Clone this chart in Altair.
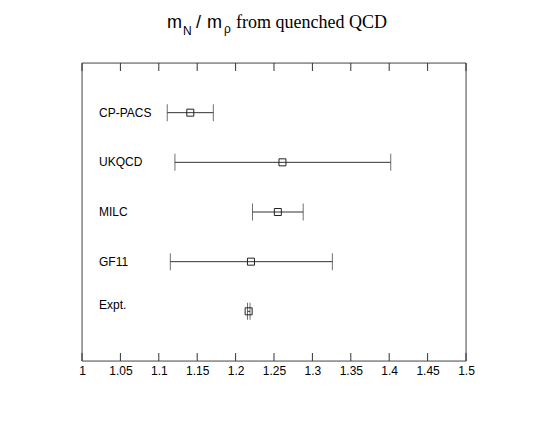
import altair as alt
import pandas as pd

groups = ["CP-PACS", "UKQCD", "MILC", "GF11", "Expt."]
rows = [1, 2, 3, 4, 5]
centers = [1.141, 1.261, 1.255, 1.220, 1.217]
lows = [1.111, 1.121, 1.222, 1.115, 1.2155]
highs = [1.171, 1.402, 1.288, 1.326, 1.2188]
tick_values = [1.0, 1.05, 1.1, 1.15, 1.2, 1.25, 1.3, 1.35, 1.4, 1.45, 1.5]

df = pd.DataFrame({"group": groups, "row": rows, "c": centers, "lo": lows, "hi": highs})
ticks_df = pd.DataFrame({"t": tick_values})

W, H = 384, 298
xs = alt.Scale(domain=[1.0, 1.5], nice=False, zero=False)
ys = alt.Scale(domain=[0, 6], reverse=True, nice=False, zero=False)

xaxis = alt.Axis(values=tick_values, format="~g", domain=False, ticks=False, grid=False,
                 labelFont="Liberation Sans", labelFontSize=12, labelColor="black",
                 labelPadding=4, labelOverlap=False, labelFlush=False, labelBound=False,
                 tickCount=11, title=None)

def X(field):
    return alt.X(field, scale=xs, axis=xaxis)

def Y(field):
    return alt.Y(field, scale=ys, axis=None)

base = alt.Chart(df)

bars = base.mark_rule(color="#333", strokeWidth=1).encode(
    x=X("lo:Q"), x2="hi:Q", y=Y("row:Q"))
caps_lo = base.mark_tick(orient="vertical", size=17, thickness=1, color="#333").encode(
    x=X("lo:Q"), y=Y("row:Q"))
caps_hi = base.mark_tick(orient="vertical", size=17, thickness=1, color="#333").encode(
    x=X("hi:Q"), y=Y("row:Q"))
pts = base.mark_point(shape="square", size=49, filled=False, color="#222", strokeWidth=1, opacity=1).encode(
    x=X("c:Q"), y=Y("row:Q"))

labels = alt.Chart(df[df.group != "Expt."]).mark_text(
    align="left", baseline="middle", font="Liberation Sans", fontSize=12, color="black").encode(
    x=alt.value(17), y=Y("row:Q"), text="group:N")
label_expt = alt.Chart(df[df.group == "Expt."]).mark_text(
    align="left", baseline="middle", font="Liberation Sans", fontSize=12, color="black", dy=-6).encode(
    x=alt.value(17), y=Y("row:Q"), text="group:N")

tick_bot = alt.Chart(ticks_df).mark_rule(color="#333").encode(
    x=X("t:Q"), y=alt.value(H), y2=alt.value(H - 8))
tick_top = alt.Chart(ticks_df).mark_rule(color="#333").encode(
    x=X("t:Q"), y=alt.value(0), y2=alt.value(8))

frame_src = alt.Chart(pd.DataFrame({"k": [0]}))
frame = (
    frame_src.mark_rule(color="#555").encode(x=alt.value(0), y=alt.value(0), y2=alt.value(H))
    + frame_src.mark_rule(color="#555").encode(x=alt.value(W), y=alt.value(0), y2=alt.value(H))
    + frame_src.mark_rule(color="#555").encode(y=alt.value(0), x=alt.value(0), x2=alt.value(W))
    + frame_src.mark_rule(color="#555").encode(y=alt.value(H), x=alt.value(0), x2=alt.value(W))
)

def ttext(txt, x, y, size, font):
    return alt.Chart(pd.DataFrame({"s": [txt]})).mark_text(
        align="left", baseline="alphabetic", font=font, fontSize=size, color="black").encode(
        x=alt.value(x), y=alt.value(y), text="s:N")

title = (ttext("m", 85, -35, 18, "Liberation Sans")
         + ttext("N", 101, -28, 12, "Liberation Sans")
         + ttext("/", 114, -35, 18, "Liberation Sans")
         + ttext("m", 125, -35, 18, "Liberation Sans")
         + ttext("ρ", 142, -30, 12, "Liberation Sans")
         + ttext("from quenched QCD", 154, -35, 18, "Liberation Serif"))

chart = alt.layer(bars, frame, tick_bot, tick_top, caps_lo, caps_hi, pts, labels, label_expt, title).properties(
    width=W, height=H,
    autosize=alt.AutoSizeParams(type="none"),
    padding={"left": 74, "top": 55, "right": 70, "bottom": 50},
).configure_view(stroke=None).configure(background="white")

chart.save("out.html", embed_options={"renderer": "svg", "actions": False})
